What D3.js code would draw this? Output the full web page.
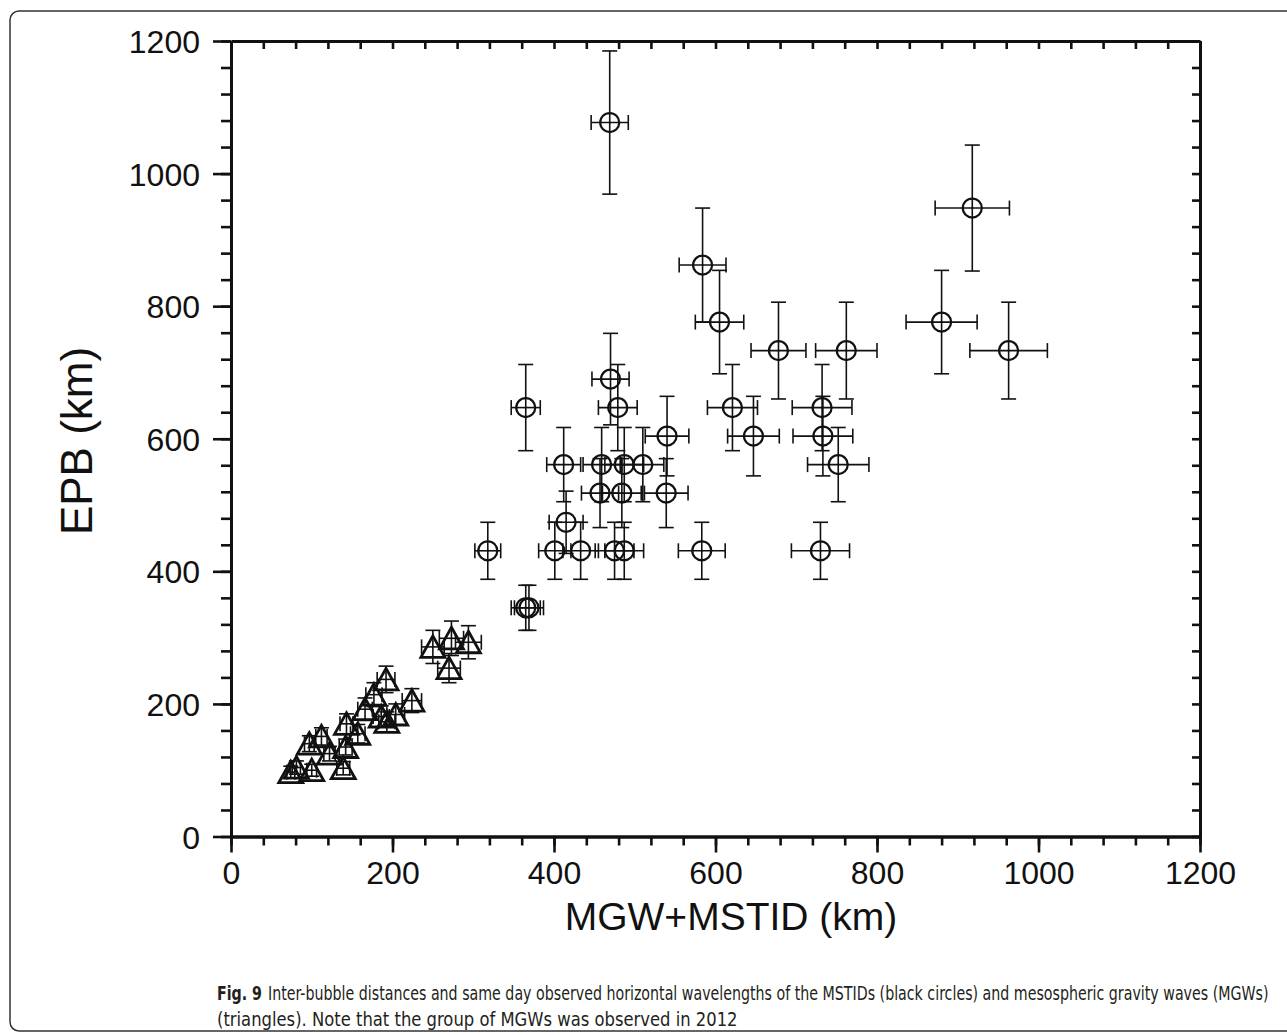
<!DOCTYPE html>
<html>
<head>
<meta charset="utf-8">
<script src="https://cdn.jsdelivr.net/npm/d3@7"></script>
<style>
  html, body { margin: 0; padding: 0; background: #fff; }
  svg { display: block; }
</style>
</head>
<body>
<svg id="chart" width="1287" height="1035"></svg>
<script>
// ---- Data ----
// MSTIDs (circles)
const mstidX    = [469, 918, 584, 605, 880, 678, 762, 963, 470, 365, 479, 621, 732, 540, 647, 733, 412, 459, 487, 510, 752, 457, 484, 539, 415, 318, 401, 433, 475, 487, 583, 730, 365, 369];
const mstidY    = [1077, 948, 862, 776, 776, 733, 733, 733, 690, 647, 647, 647, 647, 604, 604, 604, 561, 561, 561, 561, 561, 518, 518, 518, 474, 431, 431, 431, 431, 431, 431, 431, 345, 345];
const mstidXErr = [23, 46, 29, 30, 44, 34, 38, 48, 23, 18, 24, 31, 37, 27, 32, 37, 21, 23, 24, 26, 38, 23, 24, 27, 21, 16, 20, 22, 24, 24, 29, 36, 18, 18];
const mstidYErr = [108, 95, 86, 78, 78, 73, 73, 73, 69, 65, 65, 65, 65, 60, 60, 60, 56, 56, 56, 56, 56, 52, 52, 52, 47, 43, 43, 43, 43, 43, 43, 43, 34, 34];
// MGWs (triangles)
const mgwX    = [250, 273, 294, 270, 192, 224, 177, 166, 186, 204, 193, 143, 157, 97, 112, 142, 122, 139, 100, 81, 74];
const mgwY    = [286, 299, 293, 254, 237, 205, 214, 192, 181, 184, 173, 170, 155, 140, 151, 135, 125, 103, 100, 104, 97];
const mgwXErr = [14, 15, 16, 14, 11, 12, 10, 9, 10, 11, 10, 8, 9, 6, 7, 8, 7, 8, 6, 5, 5];
const mgwYErr = [25, 26, 25, 22, 20, 18, 18, 17, 16, 16, 15, 15, 14, 12, 13, 12, 11, 10, 9, 10, 9];
// Axes
const xMajorTicks = [0, 200, 400, 600, 800, 1000, 1200];
const yMajorTicks = [0, 200, 400, 600, 800, 1000, 1200];
const minorStep = 40;
const xTitle = "MGW+MSTID (km)";
const yTitle = "EPB (km)";
const captionBold = "Fig. 9";
const captionLine1 = "Inter-bubble distances and same day observed horizontal wavelengths of the MSTIDs (black circles) and mesospheric gravity waves (MGWs)";
const captionLine2 = "(triangles). Note that the group of MGWs was observed in 2012";

const circles = mstidX.map((v, i) => ({x: v, y: mstidY[i], ex: mstidXErr[i], ey: mstidYErr[i]}));
const triangles = mgwX.map((v, i) => ({x: v, y: mgwY[i], ex: mgwXErr[i], ey: mgwYErr[i]}));

// ---- Drawing ----
const svg = d3.select("#chart");
const x = d3.scaleLinear().domain([0, 1200]).range([231, 1200]);
const y = d3.scaleLinear().domain([0, 1200]).range([836.5, 41]);
const ink = "#111";
const minorTicks = d3.range(0, 1201, minorStep);

// figure frame
svg.append("rect").attr("x", 10).attr("y", 11).attr("width", 1300).attr("height", 1020)
  .attr("rx", 9).attr("fill", "none").attr("stroke", "#333").attr("stroke-width", 1.5);

function styleAxis(g) {
  g.selectAll("path.domain").attr("stroke", ink).attr("stroke-width", 3);
  g.selectAll(".tick line").attr("stroke", ink).attr("stroke-width", 2.6);
  g.selectAll(".tick text").attr("fill", ink).attr("font-family", "Liberation Sans, Arial, sans-serif").attr("font-size", 32);
}

// bottom axis: minor + major (outward)
svg.append("g").attr("transform", `translate(0,${y(0)})`)
  .call(d3.axisBottom(x).tickValues(minorTicks).tickSize(9).tickFormat("").tickSizeOuter(0))
  .call(styleAxis);
svg.append("g").attr("transform", `translate(0,${y(0)})`)
  .call(d3.axisBottom(x).tickValues(xMajorTicks).tickSize(16).tickPadding(9).tickSizeOuter(0).tickFormat(d3.format("d")))
  .call(styleAxis);
// left axis
svg.append("g").attr("transform", `translate(${x(0)},0)`)
  .call(d3.axisLeft(y).tickValues(minorTicks).tickSize(10).tickFormat("").tickSizeOuter(0))
  .call(styleAxis);
svg.append("g").attr("transform", `translate(${x(0)},0)`)
  .call(d3.axisLeft(y).tickValues(yMajorTicks).tickSize(18).tickPadding(13).tickSizeOuter(0).tickFormat(d3.format("d")))
  .call(g => g.selectAll(".tick text").attr("dy", "0.36em"))
  .call(styleAxis);
// top axis (inward ticks)
svg.append("g").attr("transform", `translate(0,${y(1200)})`)
  .call(d3.axisTop(x).tickValues(minorTicks).tickSize(-8).tickFormat("").tickSizeOuter(0))
  .call(styleAxis);
// right axis (inward ticks)
svg.append("g").attr("transform", `translate(${x(1200)},0)`)
  .call(d3.axisRight(y).tickValues(minorTicks).tickSize(-8).tickFormat("").tickSizeOuter(0))
  .call(styleAxis);

// axis titles
svg.append("text").attr("x", 731).attr("y", 930)
  .attr("text-anchor", "middle").attr("font-family", "Liberation Sans, Arial, sans-serif")
  .attr("font-size", 39).attr("fill", ink).text(xTitle);
svg.append("text").attr("transform", `translate(92,441) rotate(-90)`)
  .attr("text-anchor", "middle").attr("font-family", "Liberation Sans, Arial, sans-serif")
  .attr("font-size", 44).attr("fill", ink).text(yTitle);

// error bars helper
const cap = 7.5;
function errorBars(sel) {
  sel.append("line").attr("x1", d => x(d.x - d.ex)).attr("x2", d => x(d.x + d.ex))
    .attr("y1", d => y(d.y)).attr("y2", d => y(d.y));
  sel.append("line").attr("x1", d => x(d.x)).attr("x2", d => x(d.x))
    .attr("y1", d => y(d.y - d.ey)).attr("y2", d => y(d.y + d.ey));
  sel.append("line").attr("x1", d => x(d.x) - cap).attr("x2", d => x(d.x) + cap)
    .attr("y1", d => y(d.y + d.ey)).attr("y2", d => y(d.y + d.ey));
  sel.append("line").attr("x1", d => x(d.x) - cap).attr("x2", d => x(d.x) + cap)
    .attr("y1", d => y(d.y - d.ey)).attr("y2", d => y(d.y - d.ey));
  sel.append("line").attr("x1", d => x(d.x - d.ex)).attr("x2", d => x(d.x - d.ex))
    .attr("y1", d => y(d.y) - cap).attr("y2", d => y(d.y) + cap);
  sel.append("line").attr("x1", d => x(d.x + d.ex)).attr("x2", d => x(d.x + d.ex))
    .attr("y1", d => y(d.y) - cap).attr("y2", d => y(d.y) + cap);
}

// triangles
const tg = svg.append("g").selectAll("g").data(triangles).join("g")
  .attr("stroke", ink).attr("fill", "none");
tg.call(g => { const e = g.append("g").attr("stroke-width", 1.6); errorBars(e); });
tg.append("path").attr("d", "M0,-11 L12,10.5 L-12,10.5 Z")
  .attr("transform", d => `translate(${x(d.x)},${y(d.y)})`)
  .attr("fill", "none").attr("stroke-width", 2.8).attr("stroke-linejoin", "miter");

// circles
const cg = svg.append("g").selectAll("g").data(circles).join("g")
  .attr("stroke", ink).attr("fill", "none");
cg.call(g => { const e = g.append("g").attr("stroke-width", 1.6); errorBars(e); });
cg.append("circle").attr("cx", d => x(d.x)).attr("cy", d => y(d.y)).attr("r", 9.5)
  .attr("fill", "none").attr("stroke-width", 2.2);
cg.append("circle").attr("cx", d => x(d.x)).attr("cy", d => y(d.y)).attr("r", 1)
  .attr("fill", ink).attr("stroke", "none");

// caption: scale each line horizontally to the width seen in the reference
const capFont = "'Liberation Sans Narrow', 'DejaVu Sans Condensed', 'Open Sans', sans-serif";
function captionText(str, x0, y0, width, bold) {
  const t = svg.append("text").attr("x", 0).attr("y", 0)
    .attr("font-family", capFont).attr("font-size", 20)
    .attr("font-weight", bold ? "bold" : "normal").attr("fill", "#231f20").text(str);
  const natural = t.node().getComputedTextLength();
  const k = width / natural;
  t.attr("transform", `translate(${x0},${y0}) scale(${k},1)`);
}
captionText(captionBold, 217, 1000, 45, true);
captionText(captionLine1, 268, 1000, 1001, false);
captionText(captionLine2, 217, 1026, 521, false);
</script>
</body>
</html>
